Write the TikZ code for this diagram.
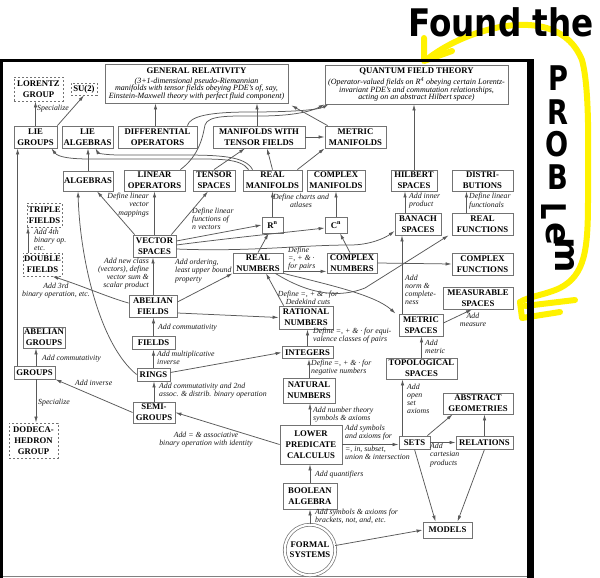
\documentclass[tikz,border=0pt]{standalone}
\usepackage{fontspec}
\setmainfont{Liberation Serif}
\newfontfamily\handfont{DejaVu Sans}
\usetikzlibrary{arrows.meta}
\begin{document}
\begin{tikzpicture}[x=1pt,y=-1pt,
 box/.style={draw=black!55, line width=0.8pt, fill=white, align=center, inner sep=0pt, font=\fontsize{8.7}{11.2}\selectfont\bfseries},
 dbox/.style={box, dash pattern=on 2.4pt off 1.6pt},
 lbl/.style={font=\fontsize{7.8}{8.2}\selectfont\itshape, inner sep=0pt, text=black!90},
 sub/.style={font=\fontsize{8}{7.9}\selectfont\itshape, inner sep=0pt, align=center},
 ttl/.style={font=\fontsize{8.7}{11}\selectfont\bfseries, inner sep=0pt},
 arr/.style={draw=black!65, line width=0.75pt, -{Latex[length=6pt,width=3.4pt]}},
 hl/.style={draw=yellow, line width=6pt, line cap=round, line join=round},
 hand/.style={font=\handfont\bfseries\fontsize{38}{38}\selectfont, inner sep=0pt, xscale=0.86},
 handl/.style={font=\handfont\bfseries\fontsize{34}{34}\selectfont, inner sep=0pt},
]
\useasboundingbox (0,0) rectangle (600,578);
\fill[white] (0,0) rectangle (600,578);

% yellow highlight
\draw[hl] (426,60) .. controls (445,45) and (470,33) .. (500,27) .. controls (540,20) and (570,30) .. (582,60) .. controls (590,90) and (588,150) .. (588,200) .. controls (588,250) and (585,275) .. (560,288) .. controls (545,295) and (530,296) .. (520,302);
\draw[hl] (424,38) -- (424,61) -- (452,51);
\draw[hl] (520,302) -- (522,318) -- (560,312);
\draw[hl] (525,306) -- (575,300);

% frame
\fill[black] (0,59) rectangle (530,62.5);
\fill[black] (0,59) rectangle (3,578);
\fill[black] (527,59) rectangle (534,578);
\draw[black!50, line width=1pt] (3,576.5) -- (527,576.5);

% boxes
\node[dbox, minimum width=49pt, minimum height=24pt] (lorentz) at (38.5,89) {LORENTZ\\GROUP};
\node[dbox, minimum width=26pt, minimum height=12pt] (su2) at (84,89) {SU(2)};
\node[box, minimum width=43pt, minimum height=22pt] (liegroups) at (35.5,137) {LIE\\GROUPS};
\node[box, minimum width=51pt, minimum height=22pt] (liealg) at (87.5,137) {LIE\\ALGEBRAS};
\node[box, minimum width=79pt, minimum height=22pt] (diffops) at (157.5,137) {DIFFERENTIAL\\OPERATORS};
\node[box, minimum width=183pt, minimum height=39pt] (gr) at (196.5,83.5) {};
\node[ttl] (grt) at (196.5,71) {GENERAL RELATIVITY};
\node[sub] (grs) at (196.5,89) {(3+1-dimensional pseudo-Riemannian\\manifolds with tensor fields obeying PDE's of, say,\\Einstein-Maxwell theory with perfect fluid component)};
\node[box, minimum width=183pt, minimum height=39pt] (qft) at (416.5,84.5) {};
\node[ttl] (qftt) at (416.5,71.5) {QUANTUM FIELD THEORY};
\node[sub] (qfts) at (416.5,89.5) {(Operator-valued fields on R\textsuperscript{4} obeying certain Lorentz-\\invariant PDE's and commutation relationships,\\acting on an abstract Hilbert space)};
\node[box, minimum width=92pt, minimum height=22pt] (mwtf) at (259,137) {MANIFOLDS WITH\\TENSOR FIELDS};
\node[box, minimum width=61pt, minimum height=22pt] (metman) at (355.5,137) {METRIC\\MANIFOLDS};
\node[box, minimum width=50pt, minimum height=20pt] (algebras) at (88,181) {ALGEBRAS};
\node[box, minimum width=61pt, minimum height=21pt] (linops) at (154.5,180.5) {LINEAR\\OPERATORS};
\node[box, minimum width=42pt, minimum height=21pt] (tensor) at (214,180.5) {TENSOR\\SPACES};
\node[box, minimum width=59pt, minimum height=21pt] (realman) at (272.5,180.5) {REAL\\MANIFOLDS};
\node[box, minimum width=58pt, minimum height=21pt] (compman) at (336,180.5) {COMPLEX\\MANIFOLDS};
\node[box, minimum width=46pt, minimum height=21pt] (hilbert) at (414,180.5) {HILBERT\\SPACES};
\node[box, minimum width=61pt, minimum height=21pt] (distrib) at (482.5,180.5) {DISTRI-\\BUTIONS};
\node[dbox, minimum width=35pt, minimum height=24pt] (triple) at (44.5,215) {TRIPLE\\FIELDS};
\node[dbox, minimum width=39pt, minimum height=23pt] (double) at (42.5,264.5) {DOUBLE\\FIELDS};
\node[box, minimum width=43pt, minimum height=22pt] (vector) at (154.5,246) {VECTOR\\SPACES};
\node[box, minimum width=21pt, minimum height=16pt] (rn) at (272.5,225) {R\textsuperscript{n}};
\node[box, minimum width=22pt, minimum height=16pt] (cn) at (336,225) {C\textsuperscript{n}};
\node[box, minimum width=46pt, minimum height=22pt] (banach) at (418,224) {BANACH\\SPACES};
\node[box, minimum width=61pt, minimum height=22pt] (realfun) at (482.5,224) {REAL\\FUNCTIONS};
\node[box, minimum width=50pt, minimum height=20pt] (realnum) at (258,263) {REAL\\NUMBERS};
\node[box, minimum width=50pt, minimum height=20pt] (compnum) at (352,263) {COMPLEX\\NUMBERS};
\node[box, minimum width=61pt, minimum height=22pt] (compfun) at (482.5,264) {COMPLEX\\FUNCTIONS};
\node[box, minimum width=48pt, minimum height=22pt] (abfields) at (153,306) {ABELIAN\\FIELDS};
\node[box, minimum width=70pt, minimum height=22pt] (measurable) at (478,298) {MEASURABLE\\SPACES};
\node[box, minimum width=54pt, minimum height=23pt] (rational) at (306,317.5) {RATIONAL\\NUMBERS};
\node[box, minimum width=44pt, minimum height=22pt] (metric) at (421,325) {METRIC\\SPACES};
\node[box, minimum width=42pt, minimum height=21pt] (abgroups) at (44,337.5) {ABELIAN\\GROUPS};
\node[box, minimum width=43pt, minimum height=12.5pt] (fields) at (153.5,343) {FIELDS};
\node[box, minimum width=51pt, minimum height=12.5pt] (integers) at (307.5,352.5) {INTEGERS};
\node[box, minimum width=41pt, minimum height=13pt] (groups) at (34.5,372.5) {GROUPS};
\node[box, minimum width=33pt, minimum height=13pt] (rings) at (153.5,374.5) {RINGS};
\node[box, minimum width=71pt, minimum height=21pt] (topo) at (421.5,368.5) {TOPOLOGICAL\\SPACES};
\node[box, minimum width=52pt, minimum height=25pt] (natural) at (309,390.5) {NATURAL\\NUMBERS};
\node[box, minimum width=42pt, minimum height=21pt] (semigroups) at (154,412.5) {SEMI-\\GROUPS};
\node[box, minimum width=70pt, minimum height=21pt] (absgeom) at (478,403.5) {ABSTRACT\\GEOMETRIES};
\node[dbox, minimum width=49pt, minimum height=35pt] (dodeca) at (33.5,440.5) {DODECA-\\HEDRON\\GROUP};
\node[box, minimum width=62pt, minimum height=39pt] (lpc) at (311,444.5) {LOWER\\PREDICATE\\CALCULUS};
\node[box, minimum width=31pt, minimum height=13pt] (sets) at (414.5,442.5) {SETS};
\node[box, minimum width=57pt, minimum height=13pt] (relations) at (484.5,442.5) {RELATIONS};
\node[box, minimum width=54pt, minimum height=26pt] (boolean) at (310,496) {BOOLEAN\\ALGEBRA};
\node[box, circle, double=white, double distance=2.2pt, line width=0.7pt, minimum size=50.5pt, font=\fontsize{8.7}{10}\selectfont\bfseries] (formal) at (310,550) {FORMAL\\SYSTEMS};
\node[box, minimum width=49pt, minimum height=16pt] (models) at (447.5,530) {MODELS};

% labels
\node[lbl, anchor=west] (l1) at (37,108.5) {Specialize};
\node[lbl, align=right, anchor=east] (l2) at (149,205) {Define linear\\vector\\mappings};
\node[lbl, align=left, anchor=west] (l3) at (192,219) {Define linear\\functions of\\n vectors};
\node[lbl, align=left, anchor=west] (l4) at (409,201) {Add inner\\product};
\node[lbl, align=left, anchor=west] (l5) at (469,201) {Define linear\\functionals};
\node[lbl, align=center] (l6) at (301,200.5) {Define charts and\\atlases};
\node[lbl, align=left, anchor=west] (l7) at (34,240) {Add 4th\\binary op.\\etc.};
\node[lbl, align=right, anchor=east] (l8) at (149,273.5) {Add new class\\(vectors), define\\vector sum \&\\scalar product};
\node[lbl, align=left, anchor=west] (l9) at (175,271) {Add ordering,\\least upper bound\\property};
\node[lbl, align=center] (l10) at (56,290.5) {Add 3rd\\binary operation, etc.};
\node[lbl, align=left, anchor=west] (l11) at (288,258.5) {Define\\=, + \& · \\for pairs};
\node[lbl, align=center] (l12) at (308,297.5) {Define =, + \& · for\\Dedekind cuts};
\node[lbl, align=left, anchor=west] (l13) at (405,290) {Add\\norm \&\\complete-\\ness};
\node[lbl, anchor=west] (l14) at (158,328) {Add commutativity};
\node[lbl, anchor=west] (l15) at (42,359) {Add commutativity};
\node[lbl, align=left, anchor=west] (l16) at (157,357.5) {Add multiplicative\\inverse};
\node[lbl, align=left, anchor=west] (l17) at (159,391) {Add commutativity and 2nd\\assoc. \& distrib. binary operation};
\node[lbl, anchor=west] (l18) at (75,383) {Add inverse};
\node[lbl, anchor=west] (l19) at (38,403) {Specialize};
\node[lbl, align=center] (l20) at (206,440) {Add = \& associative\\binary operation with identity};
\node[lbl, align=left, anchor=west] (l21) at (313,335.5) {Define =, + \& · for equi-\\valence classes of pairs};
\node[lbl, align=left, anchor=west] (l22) at (311,367.5) {Define =, + \& · for\\negative numbers};
\node[lbl, align=left, anchor=west] (l23) at (313,415) {Add number theory\\symbols \& axioms};
\node[lbl, align=left, anchor=west] (l24) at (425,347) {Add\\metric};
\node[lbl, align=center] (l25) at (473,320) {Add\\measure};
\node[lbl, align=left, anchor=west] (l26) at (407,399) {Add\\open\\set\\axioms};
\node[lbl, align=left, anchor=west] (l27) at (430,455) {Add\\cartesian\\products};
\node[lbl, align=left, anchor=west] (l28) at (345,433) {Add symbols\\and axioms for};
\node[lbl, align=left, anchor=west] (l29) at (345,453) {=, in, subset,\\union \& intersection};
\node[lbl, anchor=west] (l30) at (315,475) {Add quantifiers};
\node[lbl, align=left, anchor=west] (l31) at (315,516.5) {Add symbols \& axioms for\\brackets, not, and, etc.};

% connectors
\draw[arr] (liegroups.north) -- (liegroups.north |- lorentz.south);
\draw[arr] (liegroups.north east) -- (su2.south);
\draw[arr] ([xshift=-2pt]diffops.north) -- ([xshift=-2pt]diffops.north |- gr.south);
\draw[arr] ([xshift=-2pt]mwtf.north) -- ([xshift=-2pt]mwtf.north |- gr.south);
\draw[arr] (mwtf.east) -- (metman.west);
\draw[arr] ([xshift=3pt]metman.north west) -- ([xshift=3pt,yshift=-2pt]gr.south east);
\draw[arr] ([xshift=-5pt]linops.north east) .. controls (200,155) and (203,135) .. (205,125) .. controls (208,115) and (230,116) .. (260,116) .. controls (290,116) and (310,112) .. (qft.south west);
\draw[arr] ([xshift=-10pt]diffops.north east) .. controls (190,116) and (210,112) .. (250,112) .. controls (290,112) and (318,110) .. ([xshift=4pt]qft.south west);
\draw[arr] (hilbert.north) -- (hilbert.north |- qft.south);
\draw[arr] ([xshift=6pt]realman.north west) .. controls (240,158) and (220,159) .. (180,159) -- (90,159) .. controls (70,159) and (58,157) .. ([xshift=-6pt]liegroups.south east);
\draw[arr] ([xshift=10pt]realman.north west) .. controls (245,156) and (220,155) .. (180,155) -- (120,155) .. controls (105,155) and (98,153) .. ([xshift=8pt]liealg.south);
\draw[arr] (algebras.north) -- (algebras.north |- liealg.south);
\draw[arr] (tensor.north) -- ([xshift=-14pt]mwtf.south);
\draw[arr] (realman.north) -- ([xshift=8pt]mwtf.south);
\draw[arr] ([xshift=-5pt]realman.north east) -- (metman.south west);
\draw[arr] (vector.north) -- (vector.north |- linops.south);
\draw[arr] ([xshift=2pt]vector.north west) -- ([xshift=9pt]algebras.south);
\draw[arr] ([xshift=-5pt]vector.north east) -- ([xshift=-6pt]tensor.south);
\draw[arr] ([yshift=5pt]vector.east) -- (rn.west);
\draw[arr] ([yshift=1pt]vector.east) .. controls (230,238) and (290,232) .. ([yshift=-3pt]cn.west);
\draw[arr] ([yshift=-3pt]vector.east) .. controls (250,252) and (300,245) .. (350,245) .. controls (370,245) and (385,238) .. ([yshift=-7pt]banach.west);
\draw[arr] (rn.north) -- (rn.north |- realman.south);
\draw[arr] (cn.north) -- (cn.north |- compman.south);
\draw[arr] (realnum.north) -- ([xshift=-4pt]rn.south);
\draw[arr] ([xshift=-2pt]compnum.north) -- ([xshift=4pt]cn.south);
\draw[arr] ([yshift=2pt]realnum.south east) -- ([yshift=2pt]compnum.south west);
\draw[arr] (realnum.south east) .. controls (330,285) and (375,295) .. ([xshift=-3pt]metric.north west);
\draw[arr] ([xshift=-8pt]realnum.south east) .. controls (310,295) and (340,298) .. (365,288) -- ([xshift=-3pt]realfun.south west);
\draw[arr] (compnum.east) -- (compfun.west);
\draw[arr] ([xshift=-13pt]banach.north) -- ([xshift=-13pt]banach.north |- hilbert.south);
\draw[arr] ([xshift=-16pt]realfun.north) -- ([xshift=-16pt]realfun.north |- distrib.south);
\draw[arr] ([xshift=-19pt]metric.north) -- ([xshift=-19pt]metric.north |- banach.south);
\draw[arr] ([yshift=2pt]metric.east) -- ([xshift=-6pt]measurable.south);
\draw[arr] (topo.north) -- (topo.north |- metric.south);
\draw[arr] ([xshift=-12pt]sets.north) -- ([xshift=-12pt]sets.north |- topo.south);
\draw[arr] ([xshift=-3pt]sets.north east) -- ([xshift=10pt]absgeom.south west);
\draw[arr] (relations.north) -- (relations.north |- absgeom.south);
\draw[arr] (sets.east) -- (relations.west);
\draw[arr] (sets.south) -- ([xshift=-12pt]models.north);
\draw[arr] (relations.south) -- ([xshift=10pt]models.north);
\draw[arr] (formal) -- (models.west);
\draw[arr] (formal.north) -- (formal.north |- boolean.south);
\draw[arr] (boolean.north) -- (boolean.north |- lpc.south);
\draw[arr] ([xshift=-1pt]lpc.north) -- ([xshift=-1pt]lpc.north |- natural.south);
\draw[arr] (lpc.east) -- (sets.west |- lpc.east);
\draw[arr] (lpc.west) -- (semigroups.east);
\draw[arr] (natural.north) -- (natural.north |- integers.south);
\draw[arr] (integers.north) -- (integers.north |- rational.south);
\draw[arr] ([xshift=5pt]rational.north west) -- ([xshift=8pt]realnum.south);
\draw[arr] ([yshift=2pt]rings.east) -- (integers.west);
\draw[arr] ([yshift=-7pt]abfields.east) -- (rational.west);
\draw[arr] ([yshift=4pt]abfields.east) -- (realnum.south west);
\draw[arr] (abfields.north) -- (abfields.north |- vector.south);
\draw[arr] ([yshift=3pt]abfields.west) .. controls (110,298) and (80,285) .. ([xshift=-10pt]double.south east);
\draw[arr] ([xshift=-14.5pt]double.north) -- ([xshift=-14.5pt]double.north |- triple.south);
\draw[arr] (fields.north) -- (fields.north |- abfields.south);
\draw[arr] (rings.north) -- (rings.north |- fields.south);
\draw[arr] (rings.west) .. controls (100,345) and (80,260) .. ([xshift=-10pt]algebras.south);
\draw[arr] (semigroups.north) -- (semigroups.north |- rings.south);
\draw[arr] (semigroups.west) -- (groups.south east);
\draw[arr] ([xshift=1.5pt]groups.north) -- ([xshift=1.5pt]groups.north |- abgroups.south);
\draw[arr] ([xshift=1.5pt]groups.south) -- ([xshift=1.5pt]groups.south |- dodeca.north);
\draw[arr] ([xshift=4pt]groups.north west) -- ([xshift=4pt]groups.north west |- liegroups.south);

% handwriting
\node[hand, anchor=base west] (found) at (408,37) {Found the};
\node[handl, xscale=0.8] (pP) at (558,78) {P};
\node[handl, xscale=0.8] (pR) at (558,112) {R};
\node[handl, xscale=0.8] (pO) at (557,144) {O};
\node[handl, xscale=0.8] (pB) at (558,177) {B};
\node[handl, rotate=-90, xscale=0.8] (pL) at (554,211) {L};
\node[handl, rotate=-90] (pE) at (556,234) {e};
\node[handl, rotate=-90] (pM) at (565,255) {m};
\end{tikzpicture}
\end{document}
